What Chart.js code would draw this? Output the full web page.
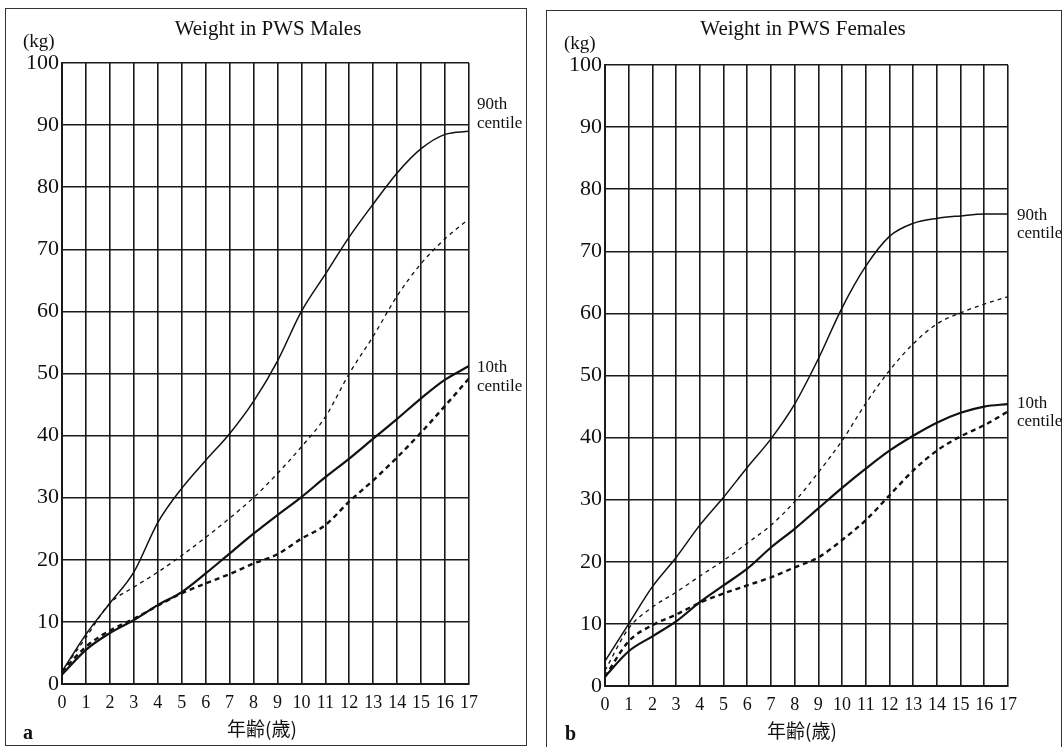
<!DOCTYPE html>
<html lang="ja">
<head>
<meta charset="UTF-8">
<title>Weight in PWS</title>
<style>
    body { margin: 0; background: #fff; width: 1062px; height: 747px; position: relative; overflow: hidden;
           font-family: 'Liberation Serif', 'DejaVu Serif', serif; color: #111; }
    .panel { position: absolute; border: 1.5px solid #333; }
    #panelA { left: 5px; top: 8px; width: 520px; height: 736px; }
    #panelB { left: 546px; top: 10px; width: 514px; height: 745px; border-bottom: none; }
    canvas { position: absolute; top: 0; }
    .txt { position: absolute; white-space: nowrap; line-height: 1; }
    .title { font-size: 21px; transform: translate(-50%, -50%); }
    .unit { font-size: 19px; transform: translateY(-50%); }
    .xname { font-family: 'Noto Sans CJK JP', sans-serif; font-size: 19px; transform: translate(-50%, -50%); }
    .tag { font-weight: bold; font-size: 20px; transform: translateY(-50%); }
    .cent { font-size: 17px; transform: translateY(-50%); }
</style>
</head>
<body>
<div class="panel" id="panelA"></div>
<div class="panel" id="panelB"></div>
<canvas id="maleChart" width="531" height="747" style="left:0"></canvas>
<canvas id="femaleChart" width="531" height="747" style="left:531px"></canvas>

<div class="txt title" style="left:268px; top:28px">Weight in PWS Males</div>
<div class="txt unit" style="left:23px; top:40px">(kg)</div>
<div class="txt xname" style="left:262px; top:727px">年齢(歳)</div>
<div class="txt tag" style="left:23px; top:732px">a</div>
<div class="txt cent" style="left:477px; top:103px">90th</div>
<div class="txt cent" style="left:477px; top:122px">centile</div>
<div class="txt cent" style="left:477px; top:366px">10th</div>
<div class="txt cent" style="left:477px; top:385px">centile</div>

<div class="txt title" style="left:803px; top:28px">Weight in PWS Females</div>
<div class="txt unit" style="left:564px; top:42px">(kg)</div>
<div class="txt xname" style="left:802px; top:729px">年齢(歳)</div>
<div class="txt tag" style="left:565px; top:733px">b</div>
<div class="txt cent" style="left:1017px; top:214px">90th</div>
<div class="txt cent" style="left:1017px; top:232px">centile</div>
<div class="txt cent" style="left:1017px; top:402px">10th</div>
<div class="txt cent" style="left:1017px; top:420px">centile</div>

<script src="https://cdn.jsdelivr.net/npm/chart.js"></script>
<script>
    // age in years
    const ages = [0, 1, 2, 3, 4, 5, 6, 7, 8, 9, 10, 11, 12, 13, 14, 15, 16, 17];
    const weightTicks = [0, 10, 20, 30, 40, 50, 60, 70, 80, 90, 100];

    // males (kg)
    const male90 =      [2, 8, 13, 18, 26, 31.5, 36, 40.3, 45.5, 52, 60, 66, 72, 77.3, 82.3, 86.2, 88.5, 89];
    const male90Ref =   [2, 7.5, 13, 15.6, 18, 20.7, 23.6, 26.7, 30, 33.9, 38.2, 43, 50, 56, 62.5, 67.7, 71.7, 74.9];
    const male10 =      [1.5, 5.5, 8.2, 10.3, 12.7, 14.8, 17.8, 21, 24.2, 27.2, 30.1, 33.3, 36.3, 39.5, 42.7, 46, 49, 51.2];
    const male10Ref =   [2, 6, 8.6, 10.5, 12.6, 14.6, 16.2, 17.7, 19.4, 20.9, 23.4, 25.6, 29.4, 32.8, 36.5, 40.5, 44.8, 49.2];

    // females (kg)
    const female90 =    [4, 10, 16, 20.7, 25.9, 30.4, 35.2, 39.8, 45.4, 52.7, 60.9, 67.6, 72.4, 74.5, 75.3, 75.7, 76, 76];
    const female90Ref = [2.5, 9.3, 12.7, 15.1, 17.7, 20.2, 23, 25.9, 29.7, 34.4, 39.5, 45.5, 50.8, 55.1, 58.3, 60.1, 61.5, 62.7];
    const female10 =    [1.5, 5.6, 8, 10.4, 13.5, 16.2, 18.9, 22.3, 25.3, 28.6, 31.9, 35, 37.9, 40.3, 42.4, 44, 45, 45.4];
    const female10Ref = [1.5, 7.2, 9.8, 11.5, 13.4, 14.9, 16.2, 17.5, 19.1, 20.7, 23.5, 26.7, 30.7, 34.7, 37.9, 40.2, 42, 44.2];

    function pts(values) {
        return ages.map((a, i) => ({ x: a, y: values[i] }));
    }

    function line(values, width, dash) {
        return {
            data: pts(values),
            borderColor: '#111',
            borderWidth: width,
            borderDash: dash,
            pointRadius: 0,
            cubicInterpolationMode: 'monotone',
            fill: false
        };
    }

    function renderChart(id, series, pad) {
        const ctx = document.getElementById(id).getContext('2d');
        return new Chart(ctx, {
            type: 'line',
            data: {
                datasets: [
                    line(series[0], 1.5, []),
                    line(series[1], 1.3, [4, 4]),
                    line(series[2], 2.2, []),
                    line(series[3], 2.4, [5, 4])
                ]
            },
            options: {
                responsive: false,
                animation: false,
                layout: { padding: { left: 0, right: pad.right, top: pad.top, bottom: 0 } },
                plugins: { legend: { display: false }, tooltip: { enabled: false } },
                scales: {
                    x: {
                        type: 'linear',
                        min: 0,
                        max: 17,
                        afterFit: s => { s.height = pad.xh; },
                        afterBuildTicks: s => { s.ticks = ages.map(v => ({ value: v })); },
                        grid: { color: '#1a1a1a', lineWidth: 1.6, drawTicks: false },
                        border: { color: '#1a1a1a', width: 2 },
                        ticks: {
                            autoSkip: false,
                            maxRotation: 0,
                            padding: 8,
                            color: '#111',
                            font: { family: "'Liberation Serif', serif", size: 18 }
                        }
                    },
                    y: {
                        min: 0,
                        max: 100,
                        afterFit: s => { s.width = pad.yw; },
                        afterBuildTicks: s => { s.ticks = weightTicks.map(v => ({ value: v })); },
                        grid: { color: '#1a1a1a', lineWidth: 1.6, drawTicks: false },
                        border: { color: '#1a1a1a', width: 2 },
                        ticks: {
                            padding: 3,
                            color: '#111',
                            font: { family: "'Liberation Serif', serif", size: 22 }
                        }
                    }
                }
            }
        });
    }

    renderChart('maleChart', [male90, male90Ref, male10, male10Ref], { right: 62, top: 63, xh: 63, yw: 62 });
    renderChart('femaleChart', [female90, female90Ref, female10, female10Ref], { right: 54, top: 65, xh: 61, yw: 74 });
</script>
</body>
</html>
